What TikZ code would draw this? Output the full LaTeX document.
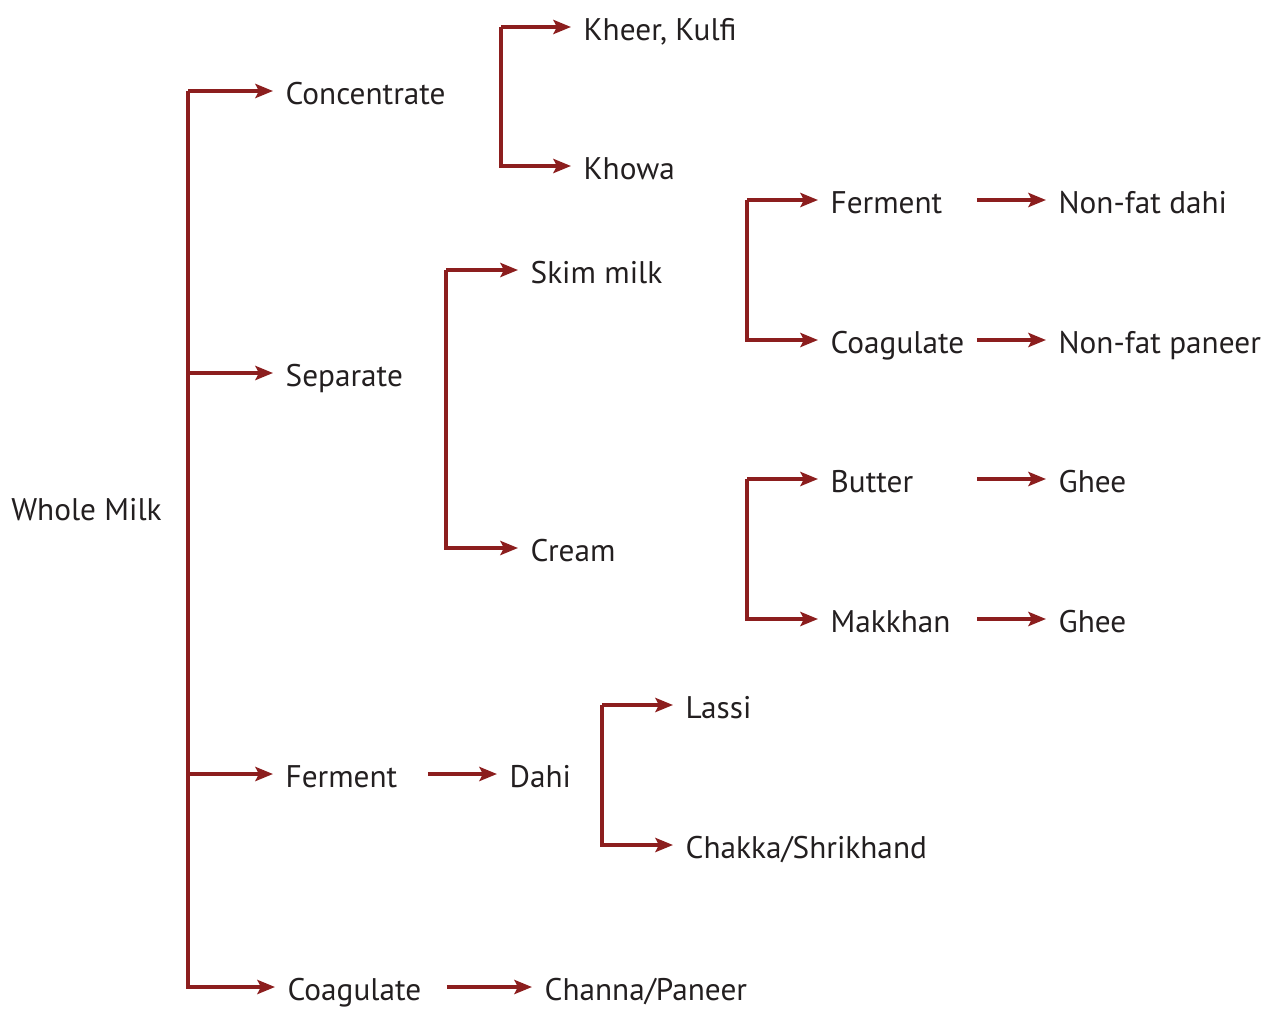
\documentclass[tikz,border=0pt]{standalone}
\usepackage{fontspec}
\setmainfont{PT Sans}
\usetikzlibrary{arrows.meta}
\definecolor{milkred}{RGB}{140,30,30}
\definecolor{milktext}{RGB}{35,31,32}
\tikzset{
  item/.style={anchor=west, inner xsep=7pt, inner ysep=0pt, text height=15pt, text depth=0pt,
    font=\fontsize{17.8}{20}\selectfont, text=milktext},
  wide/.style={item, text width=#1, align=left},
  arr/.style={draw=milkred, line width=2pt, -{Stealth[length=10pt, width=8pt, inset=2pt]}}
}
\begin{document}
\begin{tikzpicture}[x=0.02cm, y=-0.02cm]
            \useasboundingbox (0,0) rectangle (1273,1010);
            \node[item, inner xsep=0pt] (whole) at (11,507) {Whole Milk};
            \node[item] (conc) at (273,91) {Concentrate};
            \node[item] (sep) at (273,373) {Separate};
            \node[wide=2.59cm] (ferm) at (273,774) {Ferment};
            \node[wide=2.93cm] (coag) at (275,987) {Coagulate};
            \node[item] (kheer) at (571,27) {Kheer, Kulfi};
            \node[item] (khowa) at (571,166) {Khowa};
            \node[item] (skim) at (518,270) {Skim milk};
            \node[item] (cream) at (518,548) {Cream};
            \node[wide=2.67cm] (sferm) at (818,200) {Ferment};
            \node[wide=2.67cm] (scoag) at (818,340) {Coagulate};
            \node[item] (nfdahi) at (1046,200) {Non-fat dahi};
            \node[item] (nfpaneer) at (1046,340) {Non-fat paneer};
            \node[wide=2.67cm] (butter) at (818,479) {Butter};
            \node[wide=2.67cm] (makkhan) at (818,619) {Makkhan};
            \node[item] (ghee1) at (1046,479) {Ghee};
            \node[item] (ghee2) at (1046,619) {Ghee};
            \node[item] (dahi) at (497,774) {Dahi};
            \node[item] (lassi) at (673,705) {Lassi};
            \node[item] (chakka) at (673,845) {Chakka/Shrikhand};
            \node[item] (channa) at (532,987) {Channa/Paneer};

            % bracket corners
            \coordinate (wm) at (188,91);
            \coordinate (cc) at (501,27);
            \coordinate (sc) at (446,270);
            \coordinate (kc) at (747,200);
            \coordinate (bc) at (747,479);
            \coordinate (dc) at (602,705);

            \draw[arr] (wm) -- (conc);
            \draw[arr] (wm |- sep) -- (sep);
            \draw[arr] (wm |- ferm) -- (ferm);
            \draw[arr] (wm) |- (coag);
            \draw[arr] (cc) -- (kheer);
            \draw[arr] (cc) |- (khowa);
            \draw[arr] (sc) -- (skim);
            \draw[arr] (sc) |- (cream);
            \draw[arr] (kc) -- (sferm);
            \draw[arr] (kc) |- (scoag);
            \draw[arr] (sferm) -- (nfdahi);
            \draw[arr] (scoag) -- (nfpaneer);
            \draw[arr] (bc) -- (butter);
            \draw[arr] (bc) |- (makkhan);
            \draw[arr] (butter) -- (ghee1);
            \draw[arr] (makkhan) -- (ghee2);
            \draw[arr] (ferm) -- (dahi);
            \draw[arr] (dc) -- (lassi);
            \draw[arr] (dc) |- (chakka);
            \draw[arr] (coag) -- (channa);
        \end{tikzpicture}
\end{document}
